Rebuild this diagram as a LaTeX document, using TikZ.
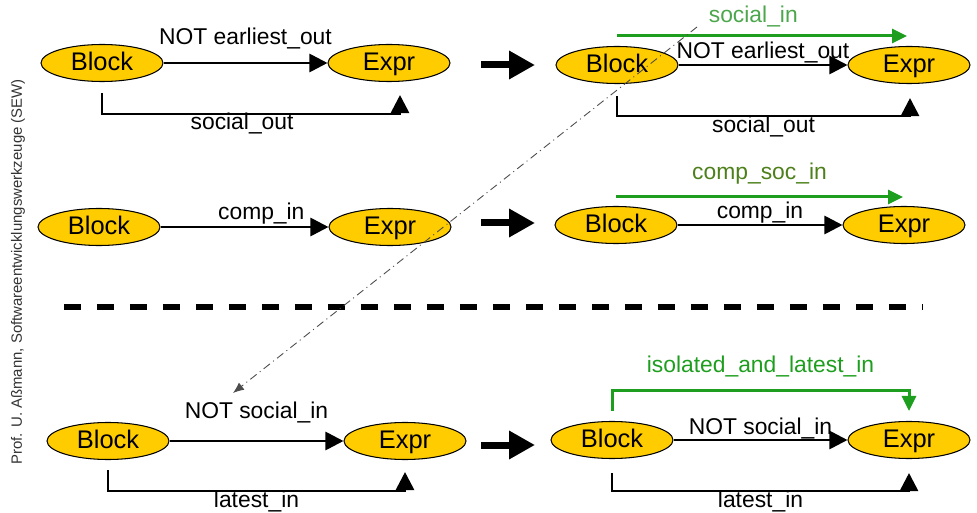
\documentclass[tikz,border=0pt]{standalone}
\usepackage{fontspec}
\setmainfont{Liberation Sans}
\usetikzlibrary{shapes.geometric,arrows.meta}

\definecolor{blockyellow}{HTML}{FFCC00}
\definecolor{sewgreen}{HTML}{1E9E1E}
\definecolor{lightgreen}{HTML}{4CA64C}
\definecolor{olivegreen}{HTML}{4D7F1A}

\begin{document}
\begin{tikzpicture}[x=0.02cm, y=-0.02cm,
  blk/.style={ellipse, draw, line width=0.6pt, fill=blockyellow, minimum width=2.44cm, minimum height=0.74cm, inner sep=0pt, text height=10.6pt, text depth=1.5pt, font=\fontsize{14.5}{16}\selectfont},
  lbl/.style={font=\fontsize{13}{15}\selectfont, inner sep=0pt},
  flow/.style={line width=0.055cm, -{Triangle[length=0.36cm,width=0.36cm]}},
  gflow/.style={draw=sewgreen, line width=0.06cm, -{Triangle[length=0.3cm,width=0.28cm]}},
  bigarrow/.style={line width=0.14cm, -{Triangle[length=0.52cm,width=0.54cm]}},
  sep/.style={line width=0.14cm, dash pattern=on 0.34cm off 0.32cm},
  link/.style={draw=black!70, line width=0.5pt, dash pattern=on 0.16cm off 0.08cm on 0.02cm off 0.08cm, -{Latex[length=0.22cm,width=0.18cm]}}]

  \useasboundingbox (0,0) rectangle (977,513);

  \node[rotate=90, text=black!80, font=\fontsize{8.5}{10}\selectfont] (sew) at (18,272) {Prof. U. Aßmann, Softwareentwicklungswerkzeuge (SEW)};

  % upper left
  \node[blk] (b1) at (102,63) {Block};
  \node[blk] (e1) at (389,63) {Expr};
  \draw[flow] (b1) -- node[lbl, yshift=0.5cm] {NOT earliest\_out} (e1);
  \draw[flow] (b1.south) ++(0,11) -- ++(0,21) -| node[lbl, pos=.235, yshift=-0.18cm] {social\_out} ([xshift=0.22cm,yshift=-0.26cm]e1.south);

  % upper right
  \node[blk] (b2) at (617,65) {Block};
  \node[blk] (e2) at (909,65) {Expr};
  \draw[flow] (b2) -- node[lbl, yshift=0.26cm] {NOT earliest\_out} (e2);
  \draw[gflow] ([yshift=0.2cm]b2.north) -- node[lbl, text=lightgreen, pos=.47, yshift=0.38cm] {social\_in} ([xshift=-0.04cm,yshift=0.2cm]e2.north);
  \draw[flow] (b2.south) ++(0,12) -- ++(0,20) -| node[lbl, pos=.25, yshift=-0.2cm] {social\_out} ([xshift=0.02cm,yshift=-0.28cm]e2.south);

  % middle
  \node[blk] (b3) at (99,227) {Block};
  \node[blk] (e3) at (390,227) {Expr};
  \draw[flow] (b3) -- node[lbl, pos=.6, yshift=0.26cm] {comp\_in} (e3);

  \node[blk] (b4) at (616,225) {Block};
  \node[blk] (e4) at (904,225) {Expr};
  \draw[flow] (b4) -- node[lbl, yshift=0.24cm] {comp\_in} (e4);
  \draw[gflow] ([yshift=0.18cm]b4.north) -- node[lbl, text=olivegreen, yshift=0.46cm] {comp\_soc\_in} ([xshift=-0.02cm,yshift=0.18cm]e4.north);

  \draw[sep] (64,307) -- (922,307);

  % lower
  \node[blk] (b5) at (108,441) {Block};
  \node[blk] (e5) at (405,441) {Expr};
  \draw[flow] (b5) -- node[lbl, yshift=0.58cm] {NOT social\_in} (e5);
  \draw[flow] (b5.south) ++(0,10) -- ++(0,21) -| node[lbl, pos=.25, yshift=-0.2cm] {latest\_in} ([yshift=-0.24cm]e5.south);

  \node[blk] (b6) at (612,440) {Block};
  \node[blk] (e6) at (909,440) {Expr};
  \draw[flow] (b6) -- node[lbl, yshift=0.24cm] {NOT social\_in} (e6);
  \draw[gflow] ([yshift=0.2cm]b6.north) -- ++(0,-20) -| node[lbl, text=sewgreen, pos=.25, yshift=0.48cm] {isolated\_and\_latest\_in} ([yshift=0.2cm]e6.north);
  \draw[flow] (b6.south) ++(0,14) -- ++(0,18) -| node[lbl, pos=.25, yshift=-0.2cm] {latest\_in} ([yshift=-0.28cm]e6.south);

  \foreach \y in {65,223,445}
    \draw[bigarrow] (481,\y) -- (535,\y);

  \coordinate (soc) at (697,27);
  \coordinate (nsoc) at (233,393);
  \draw[link] (soc) -- (nsoc);
\end{tikzpicture}
\end{document}
